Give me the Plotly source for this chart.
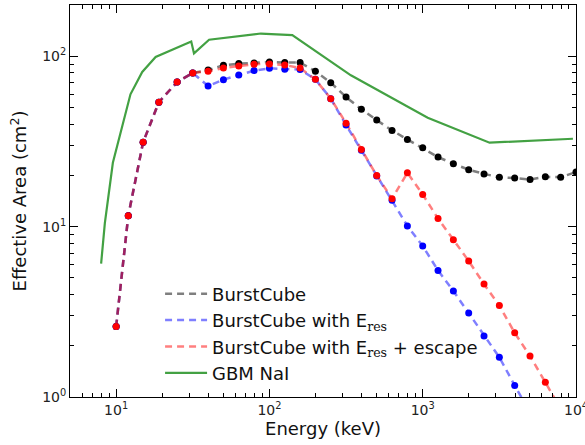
import plotly.graph_objects as go

# ---- data ----
energy = [10, 12, 15, 19, 25, 31.6, 39.8, 50.1, 63.1, 79.4, 100, 125.9, 158.5, 199.5,
          251.2, 316.2, 398.1, 501.2, 631.0, 794.3, 1000, 1258.9, 1584.9, 1995.3,
          2511.9, 3162.3, 3981.1, 5011.9, 6309.6, 7943.3, 10000]

common_low = [2.59, 11.6, 31.3, 53.8, 70.6, 79.8]

burstcube = common_low + [83.0, 88.5, 90.6, 91.4, 92.5, 91.8, 91.8, 81.6, 70.0, 57.6,
                          48.8, 42.2, 36.7, 32.5, 29.0, 25.6, 23.4, 21.6, 20.4, 19.5,
                          19.3, 18.9, 19.6, 19.5, 20.9]

burstcube_eres = common_low + [66.9, 72.9, 77.6, 82.4, 85.0, 83.9, 83.5, 73.2, 56.4, 39.5,
                               28.1, 19.8, 14.3, 10.1, 7.70, 5.53, 4.19, 3.11, 2.28, 1.71,
                               1.17, 0.81]

burstcube_esc = common_low + [81.6, 85.3, 87.7, 89.8, 90.2, 88.9, 85.3, 73.2, 56.4, 40.5,
                              28.4, 19.95, 14.6, 20.7, 15.45, 11.15, 8.39, 6.28, 4.60, 3.44,
                              2.38, 1.74, 1.22, 0.85]

gbm_energy = [7.98, 8.44, 9.52, 12.4, 14.8, 18.1, 30.9, 32.2, 40.4, 87.9, 141, 340, 1078, 2730, 9550]
gbm_area = [6.06, 10.5, 23.7, 59.8, 80.9, 99, 122, 104, 125, 136, 133, 77.3, 43.6, 31.1, 32.8]

x_tickvals = [10, 100, 1000, 10000]
x_ticktext = ["10<sup>1</sup>", "10<sup>2</sup>", "10<sup>3</sup>", "10<sup>4</sup>"]
y_tickvals = [1, 10, 100]
y_ticktext = ["10<sup>0</sup>", "10<sup>1</sup>", "10<sup>2</sup>"]

res = "<sub><span style=\"font-family:'DejaVu Serif'\">res</span></sub>"
names = ["BurstCube", "BurstCube with E" + res, "BurstCube with E" + res + " + escape", "GBM NaI"]

DASH = "7px,5px"
fig = go.Figure()

series = [
    (burstcube, "rgba(0,0,0,0.5)", "black"),
    (burstcube_eres, "rgba(0,0,255,0.5)", "blue"),
    (burstcube_esc, "rgba(255,0,0,0.5)", "red"),
]
for i, (vals, lc, mc) in enumerate(series):
    fig.add_trace(go.Scatter(
        x=energy[:len(vals)], y=vals, mode="lines", name=names[i],
        line=dict(color=lc, width=2.5, dash=DASH), legendgroup=f"g{i}",
    ))
for i, (vals, lc, mc) in enumerate(series):
    fig.add_trace(go.Scatter(
        x=energy[:len(vals)], y=vals, mode="markers", showlegend=False,
        marker=dict(color=mc, size=7, line=dict(width=0)), cliponaxis=True,
    ))

fig.add_trace(go.Scatter(
    x=gbm_energy, y=gbm_area, mode="lines", name=names[3],
    line=dict(color="#43a143", width=2.2), legendgroup="g3",
))

axis_common = dict(
    showline=True, linecolor="black", linewidth=1, mirror="allticks",
    ticks="inside", ticklen=8, tickwidth=1, tickcolor="black",
    showgrid=False, zeroline=False, automargin=False,
    tickfont=dict(family="DejaVu Sans", size=14, color="#222"),
    ticklabeloverflow="allow",
)

minor_x = [v * m for v in [1, 10, 100, 1000] for m in range(2, 10)] + [5, 6, 7, 8, 9]
minor_y = [v * m for v in [1, 10, 100] for m in range(2, 10)]

fig.update_xaxes(
    type="log", range=[0.699, 4.0], tickmode="array",
    tickvals=x_tickvals, ticktext=x_ticktext,
    minor=dict(ticks="inside", ticklen=4, tickcolor="black", tickmode="array", tickvals=minor_x),
    title=dict(text="Energy (keV)", font=dict(family="DejaVu Sans", size=18, color="#111"), standoff=5),
    **axis_common,
)
fig.update_yaxes(
    type="log", range=[0, 2.301], tickmode="array",
    tickvals=y_tickvals, ticktext=y_ticktext,
    minor=dict(ticks="inside", ticklen=4, tickcolor="black", tickmode="array", tickvals=minor_y),
    title=dict(text="Effective Area (cm<sup>2</sup>)", font=dict(family="DejaVu Sans", size=18, color="#111"), standoff=10),
    **axis_common,
)

fig.update_layout(
    width=585, height=445,
    margin=dict(l=70, r=9, t=5, b=48, autoexpand=False),
    paper_bgcolor="white", plot_bgcolor="white",
    font=dict(family="DejaVu Sans", color="#111"),
    legend=dict(
        x=0.178, y=0.31, xanchor="left", yanchor="top",
        bgcolor="rgba(0,0,0,0)", borderwidth=0,
        font=dict(family="DejaVu Sans", size=18, color="#111"),
        tracegroupgap=0, itemwidth=42,
    ),
    showlegend=True,
)

fig.write_html("out.html", config={"displayModeBar": False},
               post_script="document.body.style.margin='0';")
